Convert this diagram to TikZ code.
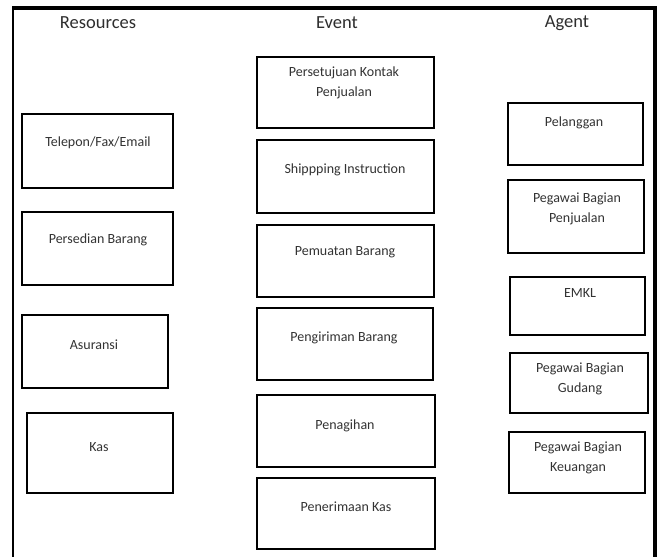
\documentclass[tikz,border=0pt]{standalone}
\usepackage{fontspec}
\setmainfont{Carlito}
\begin{document}
\begin{tikzpicture}[x=1pt,y=-1pt,
  box/.style={draw=black,line width=2.8pt,inner sep=0pt},
  lbl/.style={text=black!80,font=\fontsize{14}{19.5}\selectfont,align=center,inner sep=0pt},
  hdr/.style={text=black!82,font=\fontsize{18.5}{22}\selectfont,inner sep=0pt},
  frame/.style={draw=black}]
\useasboundingbox (0,0) rectangle (660,557);
\fill[white] (0,0) rectangle (660,557);
% frame
\coordinate (ftl) at (13,8);
\coordinate (ftr) at (655,8);
\coordinate (fbl) at (13,557);
\coordinate (fbr) at (655,557);
\draw[frame,line width=1.2pt] (ftl) -- (fbl);
\draw[frame,line width=3.5pt] ([xshift=-0.6pt]ftl) -- ([xshift=1.75pt]ftr);
\draw[frame,line width=3.5pt] (ftr) -- (fbr);
% headers
\node[hdr] (hres) at (98,23) {Resources};
\node[hdr] (hevt) at (337,23) {Event};
\node[hdr] (hagt) at (567,23) {Agent};
% boxes
\newcommand{\mybox}[5]{%
  \path[box] (#2,#3) rectangle (#4,#5);
  \node[inner sep=0pt,minimum width={#4-#2},minimum height={#5-#3}] (#1) at ({(#2+#4)/2},{(#3+#5)/2}) {};}
% Resources
\mybox{r1}{22}{114}{173}{188}
\node[lbl] (r1t) at (98,143) {Telepon/Fax/Email};
\mybox{r2}{22}{212}{173}{285}
\node[lbl] (r2t) at (98,240) {Persedian Barang};
\mybox{r3}{22}{315}{168}{388}
\node[lbl] (r3t) at (94,345) {Asuransi};
\mybox{r4}{27}{413}{173}{493}
\node[lbl] (r4t) at (99,447) {Kas};
% Event
\mybox{e1}{257}{57}{434}{128}
\node[lbl] (e1t) at (344,83) {Persetujuan Kontak\\Penjualan};
\mybox{e2}{257}{140}{434}{213}
\node[lbl] (e2t) at (345,170) {Shippping Instruction};
\mybox{e3}{257}{225}{434}{297}
\node[lbl] (e3t) at (345,252) {Pemuatan Barang};
\mybox{e4}{257}{308}{433}{380}
\node[lbl] (e4t) at (344,338) {Pengiriman Barang};
\mybox{e5}{257}{395}{435}{467}
\node[lbl] (e5t) at (345,426) {Penagihan};
\mybox{e6}{257}{478}{435}{549}
\node[lbl] (e6t) at (346,507) {Penerimaan Kas};
% Agent
\mybox{a1}{508}{103}{643}{165}
\node[lbl] (a1t) at (574,123) {Pelanggan};
\mybox{a2}{508}{180}{644}{253}
\node[lbl] (a2t) at (577,209) {Pegawai Bagian\\Penjualan};
\mybox{a3}{510}{277}{645}{335}
\node[lbl] (a3t) at (580,293) {EMKL};
\mybox{a4}{510}{353}{648}{413}
\node[lbl] (a4t) at (580,379) {Pegawai Bagian\\Gudang};
\mybox{a5}{509}{432}{645}{493}
\node[lbl] (a5t) at (578,458) {Pegawai Bagian\\Keuangan};
\end{tikzpicture}
\end{document}
